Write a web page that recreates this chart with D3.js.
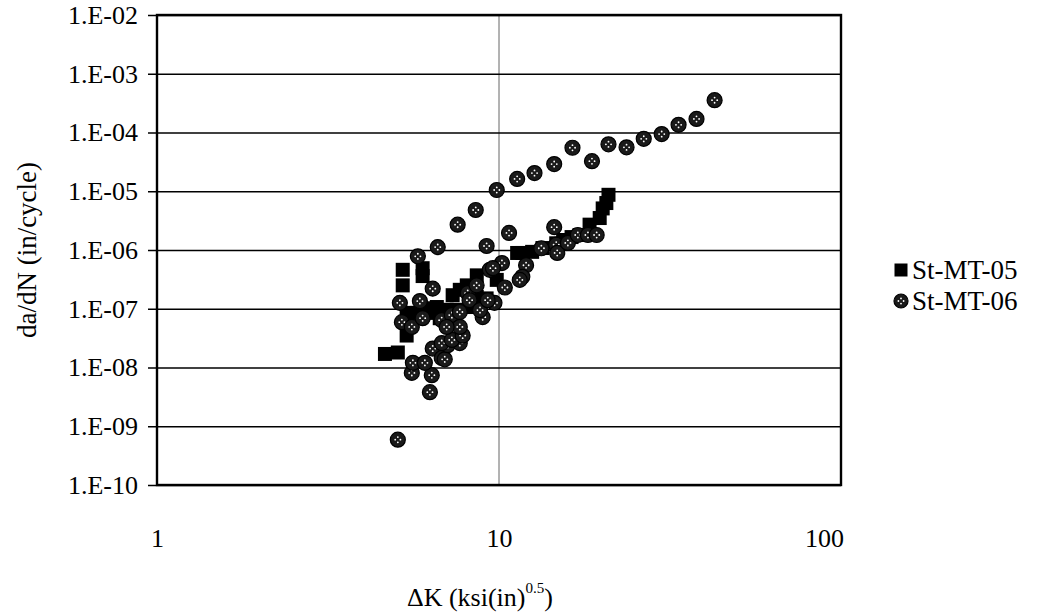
<!DOCTYPE html>
<html>
<head>
<meta charset="utf-8">
<script src="https://cdn.jsdelivr.net/npm/d3@7"></script>
<style>
  html, body { margin: 0; padding: 0; background: #fff; }
  svg { display: block; }
  text { font-family: "Liberation Serif", "Times New Roman", serif; fill: #000; }
</style>
</head>
<body>
<svg id="chart" width="1050" height="616"></svg>
<script>
// ---- Data ----
const seriesNames = ["St-MT-05", "St-MT-06"];

const mt05_dK = [4.64, 5.06, 5.37, 5.23, 5.98, 5.23, 5.98, 5.37, 5.75, 6.15, 6.28, 6.58, 6.71, 7.03, 7.32, 7.52, 7.68, 8.05, 8.21, 8.61, 8.61, 8.78, 9.2, 9.85, 11.3, 11.7, 12.5, 13.4, 14.7, 15.4, 16.3, 17.2, 18.4, 19.7, 20.1, 20.6, 20.9];
const mt05_dadN = [1.7e-8, 1.8e-8, 3.5e-8, 4.6e-7, 4.9e-7, 2.5e-7, 3.6e-7, 8.5e-8, 8.5e-8, 8.5e-8, 1.02e-7, 1.07e-7, 6.9e-8, 9.6e-8, 1.7e-7, 9.6e-8, 2.1e-7, 2.5e-7, 1.07e-7, 3.7e-7, 1.6e-7, 1.3e-7, 1.5e-7, 3.1e-7, 8.9e-7, 8.9e-7, 9.3e-7, 1.08e-6, 1.3e-6, 1.48e-6, 1.66e-6, 1.8e-6, 2.7e-6, 3.5e-6, 5.1e-6, 6.3e-6, 8.7e-6];

const mt06_dK = [5.06, 6.28, 5.56, 6.36, 5.60, 6.07, 6.40, 6.80, 6.94, 7.08, 7.68, 6.80, 7.28, 7.83,
  5.13, 5.87, 5.20, 5.56, 5.98, 6.80, 7.28, 7.68, 8.10, 8.20, 8.60, 9.40, 10.2, 10.4, 9.7, 8.96, 7.68, 7.03, 8.8, 9.27, 6.4, 5.79, 9.6, 12.0, 11.7, 11.5,
  14.7, 13.3, 14.8, 15.9, 17.0, 18.2, 19.3, 14.5,
  6.62, 7.57, 8.55, 9.2, 10.7, 9.85, 11.3, 12.7, 14.5, 16.4, 18.7, 20.9, 23.6, 26.5, 29.9, 33.5, 37.8, 42.7];
const mt06_dadN = [5.9e-10, 3.8e-9, 8.1e-9, 7.4e-9, 1.2e-8, 1.2e-8, 2.1e-8, 1.45e-8, 1.38e-8, 2.4e-8, 2.6e-8, 2.6e-8, 2.95e-8, 3.5e-8,
  1.26e-7, 1.35e-7, 5.9e-8, 4.9e-8, 6.9e-8, 6.4e-8, 7.8e-8, 8.8e-8, 1.85e-7, 1.4e-7, 2.5e-7, 4.6e-7, 6.0e-7, 2.3e-7, 1.26e-7, 7.2e-8, 4.9e-8, 4.9e-8, 9.5e-8, 1.4e-7, 2.2e-7, 7.8e-7, 4.9e-7, 5.5e-7, 3.5e-7, 3.1e-7,
  1.23e-6, 1.07e-6, 8.9e-7, 1.32e-6, 1.8e-6, 1.8e-6, 1.8e-6, 2.45e-6,
  1.12e-6, 2.7e-6, 4.8e-6, 1.17e-6, 1.95e-6, 1.05e-5, 1.62e-5, 2.04e-5, 2.9e-5, 5.5e-5, 3.25e-5, 6.3e-5, 5.6e-5, 7.8e-5, 9.4e-5, 1.35e-4, 1.7e-4, 3.55e-4];

const xTicks = [1, 10, 100];
const xTickLabels = ["1", "10", "100"];
const yTicks = [1e-2, 1e-3, 1e-4, 1e-5, 1e-6, 1e-7, 1e-8, 1e-9, 1e-10];
const yTickLabels = ["1.E-02", "1.E-03", "1.E-04", "1.E-05", "1.E-06", "1.E-07", "1.E-08", "1.E-09", "1.E-10"];

// ---- Layout ----
const svg = d3.select("#chart");
const L = 157, R = 841, T = 15, B = 485;
const FS = 26;

const x = d3.scaleLog().domain([1, 100]).range([L, R]);
const y = d3.scaleLog().domain([1e-10, 1e-2]).range([B, T]);

// vertical gridline at 10
svg.append("g").selectAll("line").data(xTicks.slice(1, -1)).join("line")
  .attr("x1", d => x(d)).attr("x2", d => x(d)).attr("y1", T).attr("y2", B)
  .attr("stroke", "#666").attr("stroke-width", 1);

// horizontal gridlines + y ticks via axis
const yAxis = d3.axisLeft(y).tickValues(yTicks)
  .tickFormat((d, i) => yTickLabels[i]).tickSize(-(R - L)).tickPadding(12);
const gy = svg.append("g").attr("transform", `translate(${L},0)`).call(yAxis);
gy.select(".domain").remove();
gy.selectAll(".tick line").attr("stroke", "#000").attr("stroke-width", 1.6)
  .attr("x1", -9);
gy.selectAll(".tick text").attr("font-size", FS)
  .style("font-family", '"Liberation Serif", serif').attr("x", -19);

// x axis labels
const xAxis = d3.axisBottom(x).tickValues(xTicks)
  .tickFormat((d, i) => xTickLabels[i]).tickSize(0).tickPadding(0);
const gx = svg.append("g").attr("transform", `translate(0,${B})`).call(xAxis);
gx.select(".domain").remove();
gx.selectAll(".tick text").attr("font-size", FS)
  .style("font-family", '"Liberation Serif", serif')
  .attr("dy", null).attr("y", 62)
  .attr("dx", (d, i) => i === xTicks.length - 1 ? -17 : 0);

// plot border
svg.append("rect").attr("x", L).attr("y", T).attr("width", R - L).attr("height", B - T)
  .attr("fill", "none").attr("stroke", "#000").attr("stroke-width", 2.4);

// markers
function drawSquare(g, cx, cy, s) {
  g.append("rect").attr("x", cx - s / 2).attr("y", cy - s / 2).attr("width", s).attr("height", s).attr("fill", "#000");
}
function drawCircle(g, cx, cy, r) {
  g.append("circle").attr("cx", cx).attr("cy", cy).attr("r", r).attr("fill", "#1a1a1a").attr("stroke", "#000").attr("stroke-width", 1.2);
  [[0, -2.6], [0, 2.6], [-2.6, 0], [2.6, 0]].forEach(o => {
    g.append("circle").attr("cx", cx + o[0]).attr("cy", cy + o[1]).attr("r", 0.9).attr("fill", "#fff");
  });
}

const g05 = svg.append("g");
mt05_dK.forEach((k, i) => drawSquare(g05, x(k), y(mt05_dadN[i]), 14));
const g06 = svg.append("g");
mt06_dK.forEach((k, i) => drawCircle(g06, x(k), y(mt06_dadN[i]), 7.5));

// legend
const LFS = 27;
const lg = svg.append("g");
drawSquare(lg, 901, 270, 13);
drawCircle(lg, 901, 301, 7);
lg.append("text").attr("x", 912).attr("y", 270).attr("dy", "0.35em").attr("font-size", LFS).text(seriesNames[0]);
lg.append("text").attr("x", 912).attr("y", 301).attr("dy", "0.35em").attr("font-size", LFS).text(seriesNames[1]);

// axis titles
svg.append("text").attr("transform", `translate(36,${(T + B) / 2}) rotate(-90)`)
  .attr("text-anchor", "middle").attr("font-size", 27).text("da/dN (in/cycle)");

const xt = svg.append("text").attr("x", 480).attr("y", 606).attr("text-anchor", "middle").attr("font-size", FS);
xt.append("tspan").text("\u0394K (ksi(in)");
xt.append("tspan").attr("font-size", FS * 0.58).attr("dy", -13).text("0.5");
xt.append("tspan").attr("dy", 13).text(")");
</script>
</body>
</html>
